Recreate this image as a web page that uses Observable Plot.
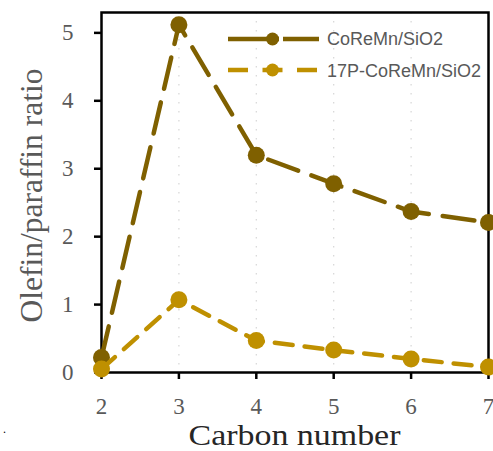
<!DOCTYPE html>
<html>
<head>
<meta charset="utf-8">
<script src="https://cdn.jsdelivr.net/npm/d3@7"></script>
<script src="https://cdn.jsdelivr.net/npm/@observablehq/plot@0.6"></script>
<style>
  html, body { margin: 0; padding: 0; background: #fff; }
  #chart { position: relative; width: 493px; height: 451px; }
  svg { overflow: hidden; }
</style>
</head>
<body>
<div id="chart"></div>
<script>
// ---- data ----
const carbon = [2, 3, 4, 5, 6, 7];
const seriesNames = ["CoReMn/SiO2", "17P-CoReMn/SiO2"];
const coremn = [0.22, 5.12, 3.20, 2.78, 2.37, 2.21];
const p17coremn = [0.05, 1.07, 0.47, 0.33, 0.20, 0.08];
const xTicks = [2, 3, 4, 5, 6, 7];
const yTicks = [0, 1, 2, 3, 4, 5];
const gridTicks = [3, 4, 5, 6];
const xTitle = "Carbon number";
const yTitle = "Olefin/paraffin ratio";

const colors = ["#7F6000", "#BF9000"];
const dashes = ["32,14", "18,12"];

const rows1 = carbon.map((c, i) => ({x: c, y: coremn[i]}));
const rows2 = carbon.map((c, i) => ({x: c, y: p17coremn[i]}));

const serif = "'Liberation Serif', 'Times New Roman', serif";

const plot = Plot.plot({
  width: 493,
  height: 451,
  marginLeft: 101,
  marginRight: 5,
  marginTop: 12,
  marginBottom: 79,
  style: {fontFamily: serif, fontSize: "23px", color: "#000", background: "#fff", overflow: "hidden"},
  x: {domain: [2, 7], label: null, ticks: xTicks, tickSize: 7, tickPadding: 18, tickFormat: d => String(d)},
  y: {domain: [0, 5.3], label: null, ticks: yTicks, tickSize: 7, tickPadding: 21, tickFormat: d => String(d)},
  marks: [
    Plot.ruleX(gridTicks, {stroke: "#d6d6d6", strokeWidth: 1.2, strokeDasharray: "1.5,7.5"}),
    Plot.frame({stroke: "#000", strokeWidth: 2.5}),
    Plot.line(rows1, {x: "x", y: "y", stroke: colors[0], strokeWidth: 4.5, strokeDasharray: dashes[0]}),
    Plot.dot(rows1, {x: "x", y: "y", r: 8.5, fill: colors[0], stroke: "none"}),
    Plot.line(rows2, {x: "x", y: "y", stroke: colors[1], strokeWidth: 4.5, strokeDasharray: dashes[1]}),
    Plot.dot(rows2, {x: "x", y: "y", r: 8.5, fill: colors[1], stroke: "none"})
  ]
});

document.getElementById("chart").appendChild(plot);

const svg = d3.select(plot);

// tick styling: black ticks, gray labels
svg.selectAll('g[aria-label$="axis tick"]').attr("stroke", "#000").attr("stroke-width", 2.5);
svg.selectAll('g[aria-label$="axis tick label"]').attr("fill", "#595959");

// axis titles
svg.append("text")
  .attr("transform", "translate(294.5,444.5) scale(1.17,1)")
  .attr("text-anchor", "middle")
  .attr("font-family", serif)
  .attr("font-size", 29)
  .attr("fill", "#262626")
  .text(xTitle);

svg.append("text")
  .attr("transform", "translate(41.5,195.5) rotate(-90)")
  .attr("text-anchor", "middle")
  .attr("font-family", serif)
  .attr("font-size", 31.5)
  .attr("fill", "#595959")
  .text(yTitle);

// stray mark in the original image
svg.append("text")
  .attr("x", 3).attr("y", 433)
  .attr("text-anchor", "start")
  .attr("font-family", serif)
  .attr("font-size", 12)
  .attr("fill", "#000")
  .text(".");

// legend
const legendRows = [
  {y: 39, color: colors[0], dash: "51,4", name: seriesNames[0], base: 45},
  {y: 70, color: colors[1], dash: "20,14.5", name: seriesNames[1], base: 76.5}
];
const lg = svg.append("g");
legendRows.forEach(d => {
  lg.append("line")
    .attr("x1", 228).attr("x2", 319).attr("y1", d.y).attr("y2", d.y)
    .attr("stroke", d.color).attr("stroke-width", 4.5).attr("stroke-dasharray", d.dash);
  lg.append("circle").attr("cx", 272.5).attr("cy", d.y).attr("r", 6.5).attr("fill", d.color);
  lg.append("text")
    .attr("x", 327).attr("y", d.base)
    .attr("text-anchor", "start")
    .attr("font-family", "'Liberation Sans', Arial, sans-serif")
    .attr("font-size", 18)
    .attr("fill", "#595959")
    .text(d.name);
});
</script>
</body>
</html>
